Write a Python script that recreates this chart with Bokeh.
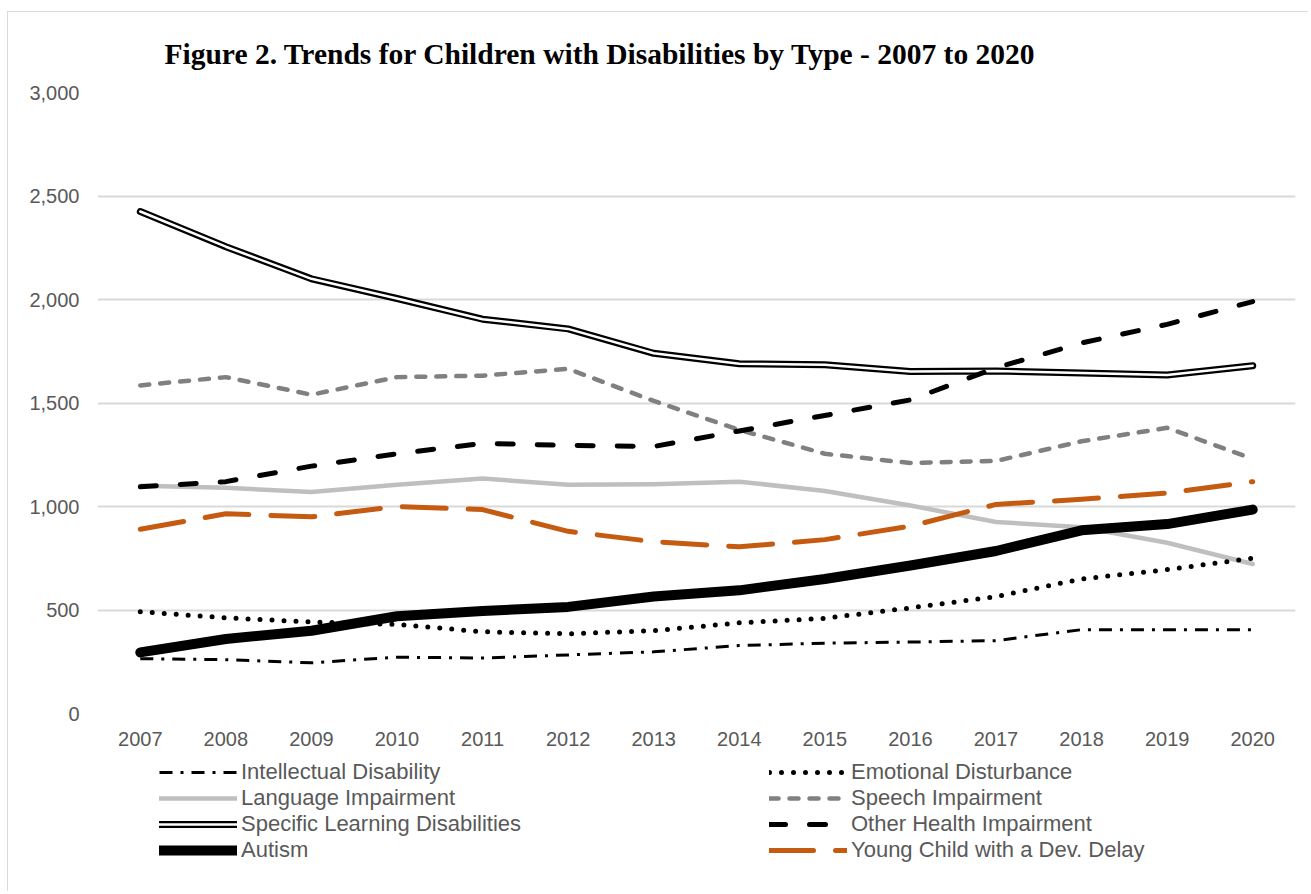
from bokeh.plotting import figure
from bokeh.layouts import column
from bokeh.models import Legend, LegendItem, FixedTicker, NumeralTickFormatter, Title
from bokeh.embed import file_html
from bokeh.resources import INLINE

years = [str(y) for y in range(2007, 2021)]

intellectual = [265, 260, 245, 272, 268, 283, 298, 328, 340, 345, 352, 405, 405, 405]
emotional = [492, 462, 442, 430, 395, 385, 400, 438, 460, 510, 565, 650, 695, 750]
language = [1100, 1090, 1070, 1105, 1135, 1105, 1108, 1120, 1075, 1005, 925, 900, 825, 722]
speech = [1585, 1625, 1540, 1625, 1632, 1665, 1510, 1370, 1255, 1210, 1220, 1315, 1380, 1230]
learning = [2425, 2255, 2100, 2005, 1905, 1858, 1740, 1690, 1685, 1652, 1655, 1645, 1635, 1680]
other_health = [1095, 1120, 1195, 1255, 1305, 1295, 1290, 1365, 1440, 1515, 1670, 1790, 1880, 1990]
autism = [295, 360, 400, 470, 495, 515, 565, 595, 650, 715, 785, 885, 915, 985]
dev_delay = [890, 965, 950, 1000, 985, 880, 830, 805, 840, 905, 1010, 1035, 1065, 1120]

y_ticks = [0, 500, 1000, 1500, 2000, 2500, 3000]
title_text = "Figure 2. Trends for Children with Disabilities by Type - 2007 to 2020"

labels_left = ["Intellectual Disability", "Language Impairment",
               "Specific Learning Disabilities", "Autism"]
labels_right = ["Emotional Disturbance", "Speech Impairment",
                "Other Health Impairment", "Young Child with a Dev. Delay"]

GRAY_TXT = "#595959"
SANS = "Liberation Sans"

# line styles (shared by chart lines and legend samples)
styles = {
    "id": dict(line_color="black", line_width=3, line_dash="13 8 3 8", line_join="round"),
    "ed": dict(line_color="black", line_width=5, line_dash="0 12", line_cap="round", line_join="round"),
    "lang": dict(line_color="#bfbfbf", line_width=4.5, line_cap="round", line_join="round"),
    "speech": dict(line_color="#808080", line_width=4.5, line_dash="9 11", line_cap="round", line_join="round"),
    "sld_o": dict(line_color="black", line_width=7, line_cap="round", line_join="round"),
    "sld_i": dict(line_color="white", line_width=2.5, line_cap="round", line_join="round"),
    "ohi": dict(line_color="black", line_width=5, line_dash="16 24", line_cap="round", line_join="round"),
    "dd": dict(line_color="#c55a11", line_width=5, line_dash="44 22", line_cap="round", line_join="round"),
    "aut": dict(line_color="black", line_width=10, line_cap="round", line_join="round"),
}

# ---------------- main chart ----------------
p = figure(x_range=years, y_range=(0, 3000), width=1300, height=747,
           output_backend="svg", toolbar_location=None,
           min_border_left=89, min_border_right=13, min_border_top=80,
           min_border_bottom=46)
p.outline_line_color = None

p.title = Title(text=title_text, align="left", offset=67, standoff=45,
                text_font="Liberation Serif", text_font_style="bold",
                text_font_size="29.5px", text_color="black")

p.yaxis.ticker = FixedTicker(ticks=y_ticks)
p.yaxis.formatter = NumeralTickFormatter(format="0,0")
for ax in (p.xaxis, p.yaxis):
    ax.axis_line_color = None
    ax.major_tick_line_color = None
    ax.minor_tick_line_color = None
    ax.major_label_text_font = SANS
    ax.major_label_text_font_size = "20px"
    ax.major_label_text_color = GRAY_TXT
p.yaxis.major_label_standoff = 12
p.xaxis.major_label_standoff = 12

p.xgrid.grid_line_color = None
p.ygrid.grid_line_color = "#d9d9d9"
p.ygrid.grid_line_width = 2

series = {
    "lang": language, "speech": speech, "sld_o": learning, "sld_i": learning,
    "id": intellectual, "ed": emotional, "ohi": other_health,
    "dd": dev_delay, "aut": autism,
}
for key, vals in series.items():
    p.line(years, vals, **styles[key])

# ---------------- legend strip ----------------
# same series drawn below this strip's visible y window, so only the
# legend samples show
q = figure(x_range=years, y_range=(3000, 4000), width=1300, height=132,
           output_backend="svg", toolbar_location=None,
           x_axis_type=None, y_axis_type=None,
           min_border_left=0, min_border_right=0, min_border_top=0,
           min_border_bottom=0)
q.outline_line_color = None
q.grid.grid_line_color = None

def sample(key):
    return q.line(years, series[key], **styles[key])

left_renderers = [[sample("id")], [sample("lang")],
                  [sample("sld_o"), sample("sld_i")], [sample("aut")]]
right_renderers = [[sample("ed")], [sample("speech")],
                   [sample("ohi")], [sample("dd")]]

leg_style = dict(label_text_font=SANS, label_text_font_size="22px",
                 label_text_color=GRAY_TXT, glyph_width=78, glyph_height=20,
                 label_standoff=4, spacing=0, padding=0, margin=0,
                 border_line_alpha=0, background_fill_alpha=0)

leg1 = Legend(items=[LegendItem(label=l, renderers=r) for l, r in zip(labels_left, left_renderers)],
              location=(62, 28), **leg_style)
leg2 = Legend(items=[LegendItem(label=l, renderers=r) for l, r in zip(labels_right, right_renderers)],
              location=(672, 28), **leg_style)
q.add_layout(leg1, "center")
q.add_layout(leg2, "center")

layout = column(p, q, spacing=0,
                styles={"margin-left": "7px", "margin-top": "11px",
                        "border-left": "1px solid #d9d9d9",
                        "border-top": "1px solid #d9d9d9"})

open("out.html", "w").write(file_html(layout, INLINE))
